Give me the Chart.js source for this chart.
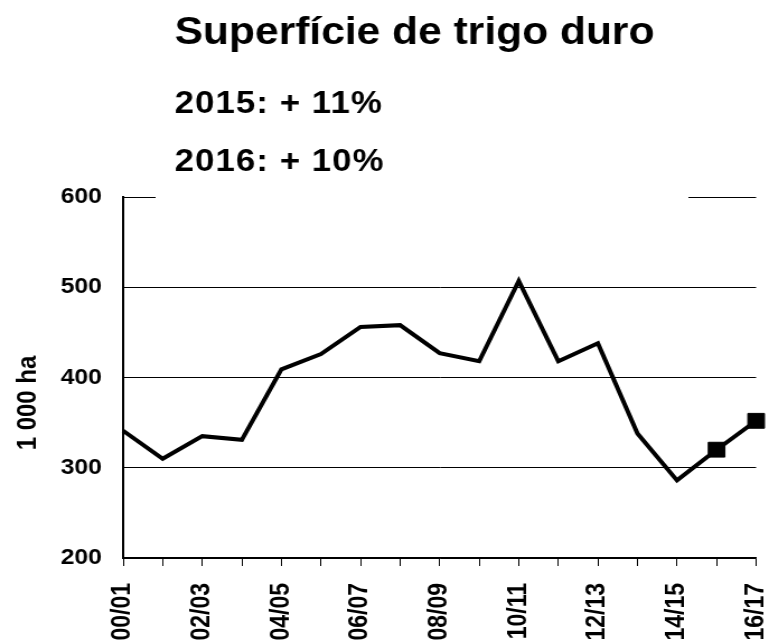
<!DOCTYPE html>
<html>
<head>
<meta charset="utf-8">
<script src="https://cdn.jsdelivr.net/npm/chart.js@4/dist/chart.umd.min.js"></script>
<style>
  html, body { margin: 0; padding: 0; background: #ffffff; }
</style>
</head>
<body>
<canvas id="c" width="687" height="643" style="display:block;width:769px;height:643px;"></canvas>
<script>
// ---- data ----
const categories = ['00/01','01/02','02/03','03/04','04/05','05/06','06/07','07/08','08/09',
                    '09/10','10/11','11/12','12/13','13/14','14/15','15/16','16/17'];
const areaValues = [341, 310, 335, 331, 409, 426, 456, 458, 427, 418, 507, 418, 438, 338, 286, 320, 352];
const yTickValues = [200, 300, 400, 500, 600];
const titleLines = ['Superfície de trigo duro', '2015: + 11%', '2016: + 10%'];
const yAxisTitle = '1 000 ha';

const FONT = '"Liberation Sans", Arial, Helvetica, sans-serif';
Chart.defaults.font.family = FONT;
Chart.defaults.color = '#000000';

const overlayPlugin = {
  id: 'overlay',
  afterDraw(chart) {
    const ctx = chart.ctx;
    ctx.save();
    // white title box hiding part of the top gridline
    ctx.fillStyle = '#ffffff';
    ctx.fillRect(139, 0, 476, 204);
    ctx.fillStyle = '#000000';
    ctx.textAlign = 'left';
    ctx.textBaseline = 'alphabetic';
    ctx.font = 'bold 38px ' + FONT;
    ctx.fillText(titleLines[0], 156, 44);
    ctx.font = 'bold 31px ' + FONT;
    if ('letterSpacing' in ctx) ctx.letterSpacing = '1px';
    ctx.fillText(titleLines[1], 156, 113);
    ctx.fillText(titleLines[2], 156, 171);
    if ('letterSpacing' in ctx) ctx.letterSpacing = '0px';
    // y axis title
    ctx.translate(25, 403);
    ctx.rotate(-Math.PI / 2);
    ctx.textAlign = 'center';
    ctx.textBaseline = 'middle';
    ctx.font = 'bold 24px ' + FONT;
    ctx.fillText(yAxisTitle, 0, 0);
    ctx.restore();
  }
};

new Chart(document.getElementById('c'), {
  type: 'line',
  data: {
    labels: categories,
    datasets: [{
      data: areaValues,
      borderColor: '#000000',
      backgroundColor: '#000000',
      borderWidth: 4,
      tension: 0,
      fill: false,
      pointStyle: 'rect',
      pointRadius: ctx => (ctx.dataIndex >= categories.length - 2 ? 10.5 : 0),
      pointHoverRadius: ctx => (ctx.dataIndex >= categories.length - 2 ? 10.5 : 0),
      pointBorderWidth: 1,
      pointBorderColor: '#000000',
      pointBackgroundColor: '#000000'
    }]
  },
  options: {
    responsive: false,
    animation: false,
    devicePixelRatio: 1,
    layout: { padding: { top: 197, right: 11, bottom: 0, left: 0 } },
    plugins: {
      legend: { display: false },
      tooltip: { enabled: false },
      title: { display: false }
    },
    scales: {
      x: {
        type: 'category',
        offset: false,
        grid: {
          display: true,
          drawOnChartArea: false,
          drawTicks: true,
          tickLength: 8,
          color: '#000000',
          lineWidth: 1
        },
        border: { display: true, color: '#000000', width: 1.5 },
        ticks: {
          autoSkip: false,
          minRotation: 90,
          maxRotation: 90,
          padding: 17,
          font: { size: 23, weight: 'bold', lineHeight: 1 },
          color: '#000000',
          callback: function (value, index) {
            return index % 2 === 0 ? categories[index] : '';
          }
        },
        afterFit: s => { s.height = 85; s.paddingLeft = 0; s.paddingRight = 0; }
      },
      y: {
        min: 200,
        max: 600,
        grid: {
          color: '#000000',
          lineWidth: 1,
          drawTicks: false
        },
        border: { display: true, color: '#000000', width: 2 },
        ticks: {
          padding: 19,
          font: { size: 22, weight: 'bold' },
          color: '#000000'
        },
        afterBuildTicks: s => { s.ticks = yTickValues.map(v => ({ value: v })); },
        afterFit: s => { s.width = 110; s.paddingTop = 0; s.paddingBottom = 0; }
      }
    }
  },
  plugins: [overlayPlugin]
});
</script>
</body>
</html>
